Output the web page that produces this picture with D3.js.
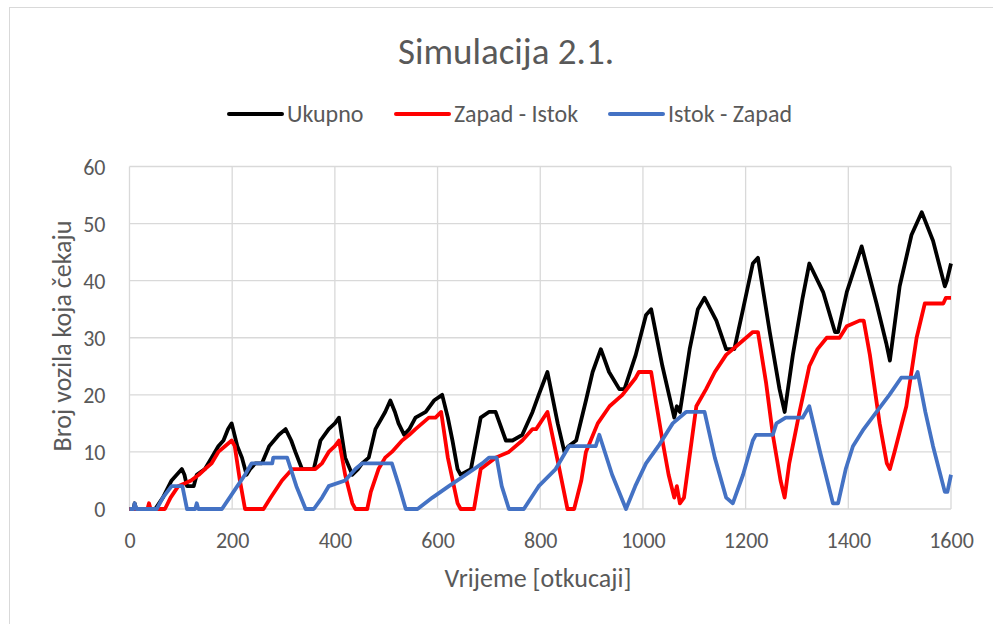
<!DOCTYPE html>
<html>
<head>
<meta charset="utf-8">
<script src="https://cdn.jsdelivr.net/npm/d3@7"></script>
<style>
  body { margin: 0; background: #fff; }
  svg text { font-family: Carlito, Calibri, "Liberation Sans Narrow", "DejaVu Sans Condensed", "Open Sans", sans-serif; fill: #595959; }
</style>
</head>
<body>
<div id="chart"></div>
<script>
// tick values on the axes
const xTicks = [0, 200, 400, 600, 800, 1000, 1200, 1400, 1600];
const yTicks = [0, 10, 20, 30, 40, 50, 60];

// [otkucaj, broj vozila]
const ukupno = [[0,0],[8,0],[10,1],[13,0],[50,0],[65,2],[82,5],[102,7],[107,6],[112,4],[125,4],[131,6],[147,7],[160,9],[173,11],[183,12],[192,14],[199,15],[210,11],[219,9],[228,6],[235,7],[245,8],[258,8],[272,11],[291,13],[304,14],[315,12],[323,10],[336,7],[359,7],[372,12],[388,14],[400,15],[408,16],[420,9],[434,6],[445,7],[453,8],[466,9],[479,14],[498,17],[508,19],[517,17],[524,15],[535,13],[545,14],[557,16],[577,17],[593,19],[609,20],[620,16],[629,12],[639,7],[645,6],[665,7],[684,16],[700,17],[713,17],[733,12],[746,12],[765,13],[785,17],[797,20],[814,24],[834,15],[847,10],[855,11],[870,12],[889,19],[902,24],[918,28],[934,24],[954,21],[964,21],[986,27],[1006,34],[1016,35],[1038,25],[1061,16],[1066,18],[1072,17],[1091,28],[1107,35],[1120,37],[1143,33],[1162,28],[1178,28],[1195,35],[1214,43],[1224,44],[1247,31],[1266,21],[1276,17],[1292,27],[1311,37],[1324,43],[1351,38],[1374,31],[1380,31],[1397,38],[1426,46],[1455,36],[1474,29],[1481,26],[1500,39],[1523,48],[1543,52],[1565,47],[1588,39],[1592,40],[1600,43]];

const zapadIstok = [[0,0],[35,0],[38,1],[41,0],[69,0],[80,2],[95,4],[120,5],[135,6],[147,7],[160,8],[173,10],[186,11],[199,12],[205,11],[215,5],[225,0],[261,0],[275,2],[297,5],[317,7],[362,7],[375,8],[388,10],[400,11],[408,12],[420,6],[434,1],[440,0],[463,0],[470,3],[485,7],[498,9],[511,10],[531,12],[545,13],[557,14],[583,16],[596,16],[607,17],[620,9],[639,1],[645,0],[671,0],[684,7],[713,9],[739,10],[765,12],[785,14],[792,14],[814,17],[835,8],[853,0],[866,0],[880,5],[889,10],[912,15],[935,18],[960,20],[986,23],[992,24],[1016,24],[1025,19],[1038,12],[1050,6],[1061,2],[1066,4],[1072,1],[1080,2],[1095,12],[1104,18],[1123,21],[1140,24],[1162,27],[1188,29],[1214,31],[1224,31],[1240,22],[1253,13],[1268,5],[1276,2],[1285,8],[1305,17],[1324,25],[1340,28],[1358,30],[1383,30],[1397,32],[1422,33],[1430,33],[1442,27],[1461,15],[1475,8],[1481,7],[1490,10],[1513,18],[1533,30],[1549,36],[1585,36],[1590,37],[1600,37]];

const istokZapad = [[0,0],[8,0],[10,1],[13,0],[53,0],[65,2],[82,4],[103,4],[112,0],[128,0],[131,1],[134,0],[180,0],[195,2],[210,4],[225,6],[238,8],[278,8],[280,9],[307,9],[325,4],[343,0],[359,0],[375,2],[388,4],[420,5],[440,7],[453,8],[511,8],[525,4],[538,0],[561,0],[590,2],[622,4],[655,6],[687,8],[700,9],[715,9],[725,4],[739,0],[768,0],[797,4],[830,7],[856,11],[908,11],[915,13],[940,6],[967,0],[985,4],[1006,8],[1030,11],[1058,15],[1084,17],[1120,17],[1140,9],[1162,2],[1175,1],[1195,6],[1214,12],[1220,13],[1253,13],[1260,15],[1278,16],[1311,16],[1324,18],[1345,10],[1370,1],[1380,1],[1395,7],[1409,11],[1430,14],[1455,17],[1480,20],[1503,23],[1530,23],[1535,24],[1550,17],[1565,11],[1588,3],[1593,3],[1600,6]];

const series = [
  { name: 'Ukupno', values: ukupno, color: '#000000' },
  { name: 'Zapad - Istok', values: zapadIstok, color: '#ff0000' },
  { name: 'Istok - Zapad', values: istokZapad, color: '#4472c4' }
];

const width = 993, height = 624;
const margin = { top: 166.5, right: 42, bottom: 115, left: 129.5 };

const svg = d3.select('#chart')
  .append('svg')
  .attr('width', width)
  .attr('height', height);

// chart area frame (runs off the right and bottom edges)
svg.append('rect')
  .attr('x', 9.5).attr('y', 7.5)
  .attr('width', 1000).attr('height', 700)
  .attr('fill', '#fff')
  .attr('stroke', '#d9d9d9');

const x = d3.scaleLinear().domain([0, 1600]).range([margin.left, width - margin.right]);
const y = d3.scaleLinear().domain([0, 60]).range([height - margin.bottom, margin.top]);

// gridlines
svg.append('g')
  .selectAll('line.h')
  .data(yTicks)
  .enter()
  .append('line')
  .attr('x1', x(0)).attr('x2', x(1600))
  .attr('y1', d => y(d)).attr('y2', d => y(d))
  .attr('stroke', '#d9d9d9').attr('stroke-width', 1.3);

svg.append('g')
  .selectAll('line.v')
  .data(xTicks)
  .enter()
  .append('line')
  .attr('x1', d => x(d)).attr('x2', d => x(d))
  .attr('y1', y(0)).attr('y2', y(60))
  .attr('stroke', '#d9d9d9').attr('stroke-width', 1.3);

// axes, labels only
const xAxis = svg.append('g')
  .attr('transform', `translate(0,${y(0)})`)
  .call(d3.axisBottom(x).tickValues(xTicks).tickFormat(d3.format('d')).tickSize(0).tickPadding(0));
xAxis.select('.domain').remove();
xAxis.selectAll('text')
  .attr('dy', null)
  .attr('y', 39)
  .style('font-size', '22px');

const yAxis = svg.append('g')
  .attr('transform', `translate(${x(0)},0)`)
  .call(d3.axisLeft(y).tickValues(yTicks).tickSize(0).tickPadding(0));
yAxis.select('.domain').remove();
yAxis.selectAll('text')
  .attr('x', -24)
  .attr('dy', '0.35em')
  .style('font-size', '22px');

// series lines
const line = d3.line()
  .x(d => x(d[0]))
  .y(d => y(d[1]));

svg.append('g')
  .selectAll('path')
  .data(series)
  .enter()
  .append('path')
  .attr('d', d => line(d.values))
  .attr('fill', 'none')
  .attr('stroke', d => d.color)
  .attr('stroke-width', 3.8)
  .attr('stroke-linejoin', 'round');

// title
svg.append('text')
  .attr('x', 506).attr('y', 64)
  .attr('text-anchor', 'middle')
  .style('font-size', '37px')
  .text('Simulacija 2.1.');

// axis titles
svg.append('text')
  .attr('x', 538).attr('y', 587)
  .attr('text-anchor', 'middle')
  .style('font-size', '26px')
  .text('Vrijeme [otkucaji]');

svg.append('text')
  .attr('transform', 'translate(71,336) rotate(-90)')
  .attr('text-anchor', 'middle')
  .style('font-size', '26px')
  .text('Broj vozila koja čekaju');

// legend
const legendX = [229, 396, 610];
const legend = svg.append('g')
  .selectAll('g')
  .data(series)
  .enter()
  .append('g')
  .attr('transform', (d, i) => `translate(${legendX[i]},114)`);

legend.append('line')
  .attr('x1', 0).attr('x2', 53)
  .attr('stroke', d => d.color)
  .attr('stroke-width', 4)
  .attr('stroke-linecap', 'round');

legend.append('text')
  .attr('x', 58)
  .attr('dy', '0.35em')
  .style('font-size', '24px')
  .text(d => d.name);
</script>
</body>
</html>
